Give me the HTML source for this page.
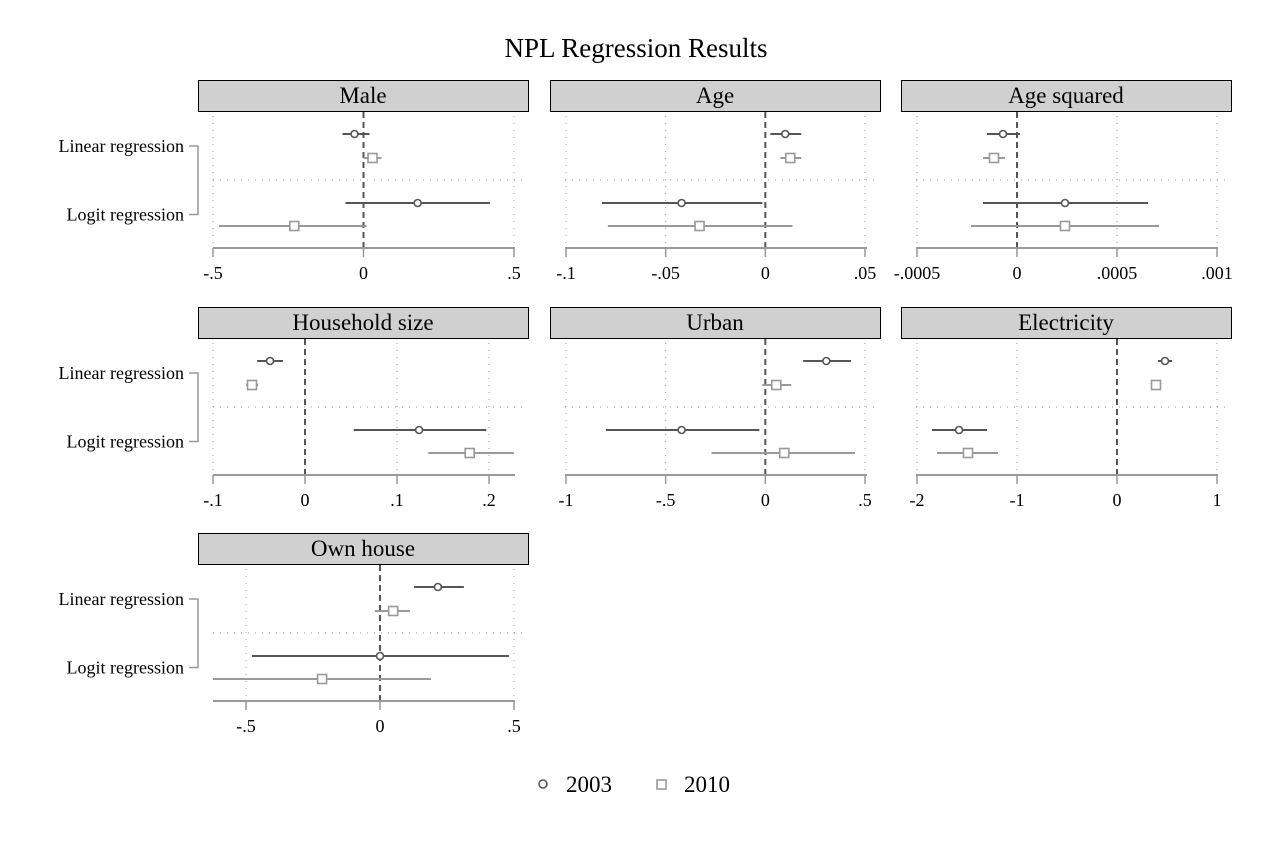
<!DOCTYPE html>
<html><head><meta charset="utf-8"><style>
body{margin:0;background:#fff;}
svg text{font-family:"Liberation Serif",serif;}
</style></head><body>
<svg id="c" width="1273" height="848" xmlns="http://www.w3.org/2000/svg">
<rect width="1273" height="848" fill="#fff"/>
<text x="636" y="57" font-size="27" text-anchor="middle">NPL Regression Results</text>
<g id="g"></g>
<g>
<circle cx="543" cy="784" r="4" fill="none" stroke="#555" stroke-width="1.6"/>
<text x="566" y="792" font-size="23">2003</text>
<rect x="657" y="780" width="9" height="9" fill="none" stroke="#999" stroke-width="1.6"/>
<text x="684" y="792" font-size="23">2010</text>
</g>
</svg>
<script>
const panelTitles=["Male","Age","Age squared","Household size","Urban","Electricity","Own house"];
const models=["Linear regression","Logit regression"];
const est2003Lin=[-0.03,0.010,-0.00007,-0.038,0.306,0.48,0.216];
const lo2003Lin=[-0.07,0.0025,-0.00015,-0.052,0.19,0.41,0.127];
const hi2003Lin=[0.02,0.018,0.000015,-0.024,0.43,0.55,0.313];
const est2010Lin=[0.03,0.0125,-0.000115,-0.0576,0.055,0.39,0.049];
const lo2010Lin=[0.0,0.0075,-0.00017,-0.064,-0.015,0.34,-0.019];
const hi2010Lin=[0.06,0.018,-0.00006,-0.051,0.13,0.44,0.112];
const est2003Log=[0.18,-0.042,0.00024,0.124,-0.42,-1.58,0.0];
const lo2003Log=[-0.06,-0.082,-0.00017,0.053,-0.80,-1.85,-0.478];
const hi2003Log=[0.42,-0.0015,0.000655,0.197,-0.03,-1.30,0.481];
const est2010Log=[-0.23,-0.033,0.00024,0.179,0.095,-1.49,-0.216];
const lo2010Log=[-0.48,-0.079,-0.00023,0.134,-0.27,-1.80,-0.623];
const hi2010Log=[0.01,0.0136,0.00071,0.227,0.45,-1.19,0.19];
const tickVals=[[-0.5,0,0.5],[-0.1,-0.05,0,0.05],[-0.0005,0,0.0005,0.001],[-0.1,0,0.1,0.2],[-1,-0.5,0,0.5],[-2,-1,0,1],[-0.5,0,0.5]];
const tickLabels=[["-.5","0",".5"],["-.1","-.05","0",".05"],["-.0005","0",".0005",".001"],["-.1","0",".1",".2"],["-1","-.5","0",".5"],["-2","-1","0","1"],["-.5","0",".5"]];
const axisMin=[-0.5,-0.1,-0.0005,-0.1,-1,-2,-0.5];
const axisMax=[0.5,0.05,0.001,0.2,0.5,1,0.5];
const NS="http://www.w3.org/2000/svg";
const G=document.getElementById('g');
function mk(t,a,p){const e=document.createElementNS(NS,t);for(const k in a)e.setAttribute(k,a[k]);(p||G).appendChild(e);return e;}
const colX=[198,550,901],rowY=[80,307,533];
const pxL=[213,566,917,213,566,917,246],pxR=[514,865,1217,489,865,1217,514];
panelTitles.forEach((t,i)=>{
 const c=i%3,r=Math.floor(i/3),X=colX[c],Y=rowY[r];
 const g=mk('g',{});
 
 
 const sx=v=>pxL[i]+(v-axisMin[i])/(axisMax[i]-axisMin[i])*(pxR[i]-pxL[i]);
 const hb=mk('rect',{x:X+0.5,y:Y+0.5,width:330,height:31,fill:'#d0d0d0',stroke:'#000','stroke-width':1},g);
 
 
 const ht=mk('text',{x:X+165,y:Y+23,'font-size':23,'text-anchor':'middle'},g);ht.textContent=t;
 
 
 const y0=Y+54,y1=Y+78,y2=Y+123,y3=Y+146,ax=Y+168;
 tickVals[i].forEach(v=>{if(v!==0)mk('line',{x1:sx(v),x2:sx(v),y1:Y+36,y2:ax,stroke:'#999','stroke-dasharray':'1 6','stroke-width':1},g);});
 mk('line',{x1:X+15,x2:X+330,y1:Y+100,y2:Y+100,stroke:'#999','stroke-dasharray':'1 6'},g);
 const zl=mk('line',{x1:sx(0),x2:sx(0),y1:Y+32,y2:ax,stroke:'#555','stroke-width':2,'stroke-dasharray':'6 4'},g);
 
 
 const al=mk('line',{x1:X+15,x2:X+317,y1:ax,y2:ax,stroke:'#999','stroke-width':2},g);
 
 
 tickVals[i].forEach((v,k)=>{
  mk('line',{x1:sx(v),x2:sx(v),y1:ax,y2:ax+9,stroke:'#999','stroke-width':1.5},g);
  const tl=mk('text',{x:sx(v),y:ax+31,'font-size':18,'text-anchor':'middle'},g);tl.textContent=tickLabels[i][k];
  
  
 });
 if(c===0){
  [[models[0],(y0+y1)/2],[models[1],(y2+y3)/2]].forEach(([s,yy])=>{
   const tx=mk('text',{x:184,y:yy+6,'font-size':18,'text-anchor':'end'},g);tx.textContent=s;
   
   
  });
  mk('path',{d:`M189 ${(y0+y1)/2}H198V${(y2+y3)/2}H189`,fill:'none',stroke:'#999','stroke-width':1.5},g);
 }
 const series=[[est2003Lin,lo2003Lin,hi2003Lin,y0,'2003'],[est2010Lin,lo2010Lin,hi2010Lin,y1,'2010'],[est2003Log,lo2003Log,hi2003Log,y2,'2003'],[est2010Log,lo2010Log,hi2010Log,y3,'2010']];
 series.forEach(([e,lo,hi,yy,yr])=>{
  const col=yr==='2003'?'#555':'#999';
  const ci=mk('line',{x1:sx(lo[i]),x2:sx(hi[i]),y1:yy,y2:yy,stroke:col,'stroke-width':2},g);
  
  
  let m;
  if(yr==='2003')m=mk('circle',{cx:sx(e[i]),cy:yy,r:3.5,fill:'#fff',stroke:col,'stroke-width':1.6},g);
  else m=mk('rect',{x:sx(e[i])-4.5,y:yy-4.5,width:9,height:9,fill:'#fff',stroke:col,'stroke-width':1.6},g);
  
  
 });
});
</script>
</body></html>
